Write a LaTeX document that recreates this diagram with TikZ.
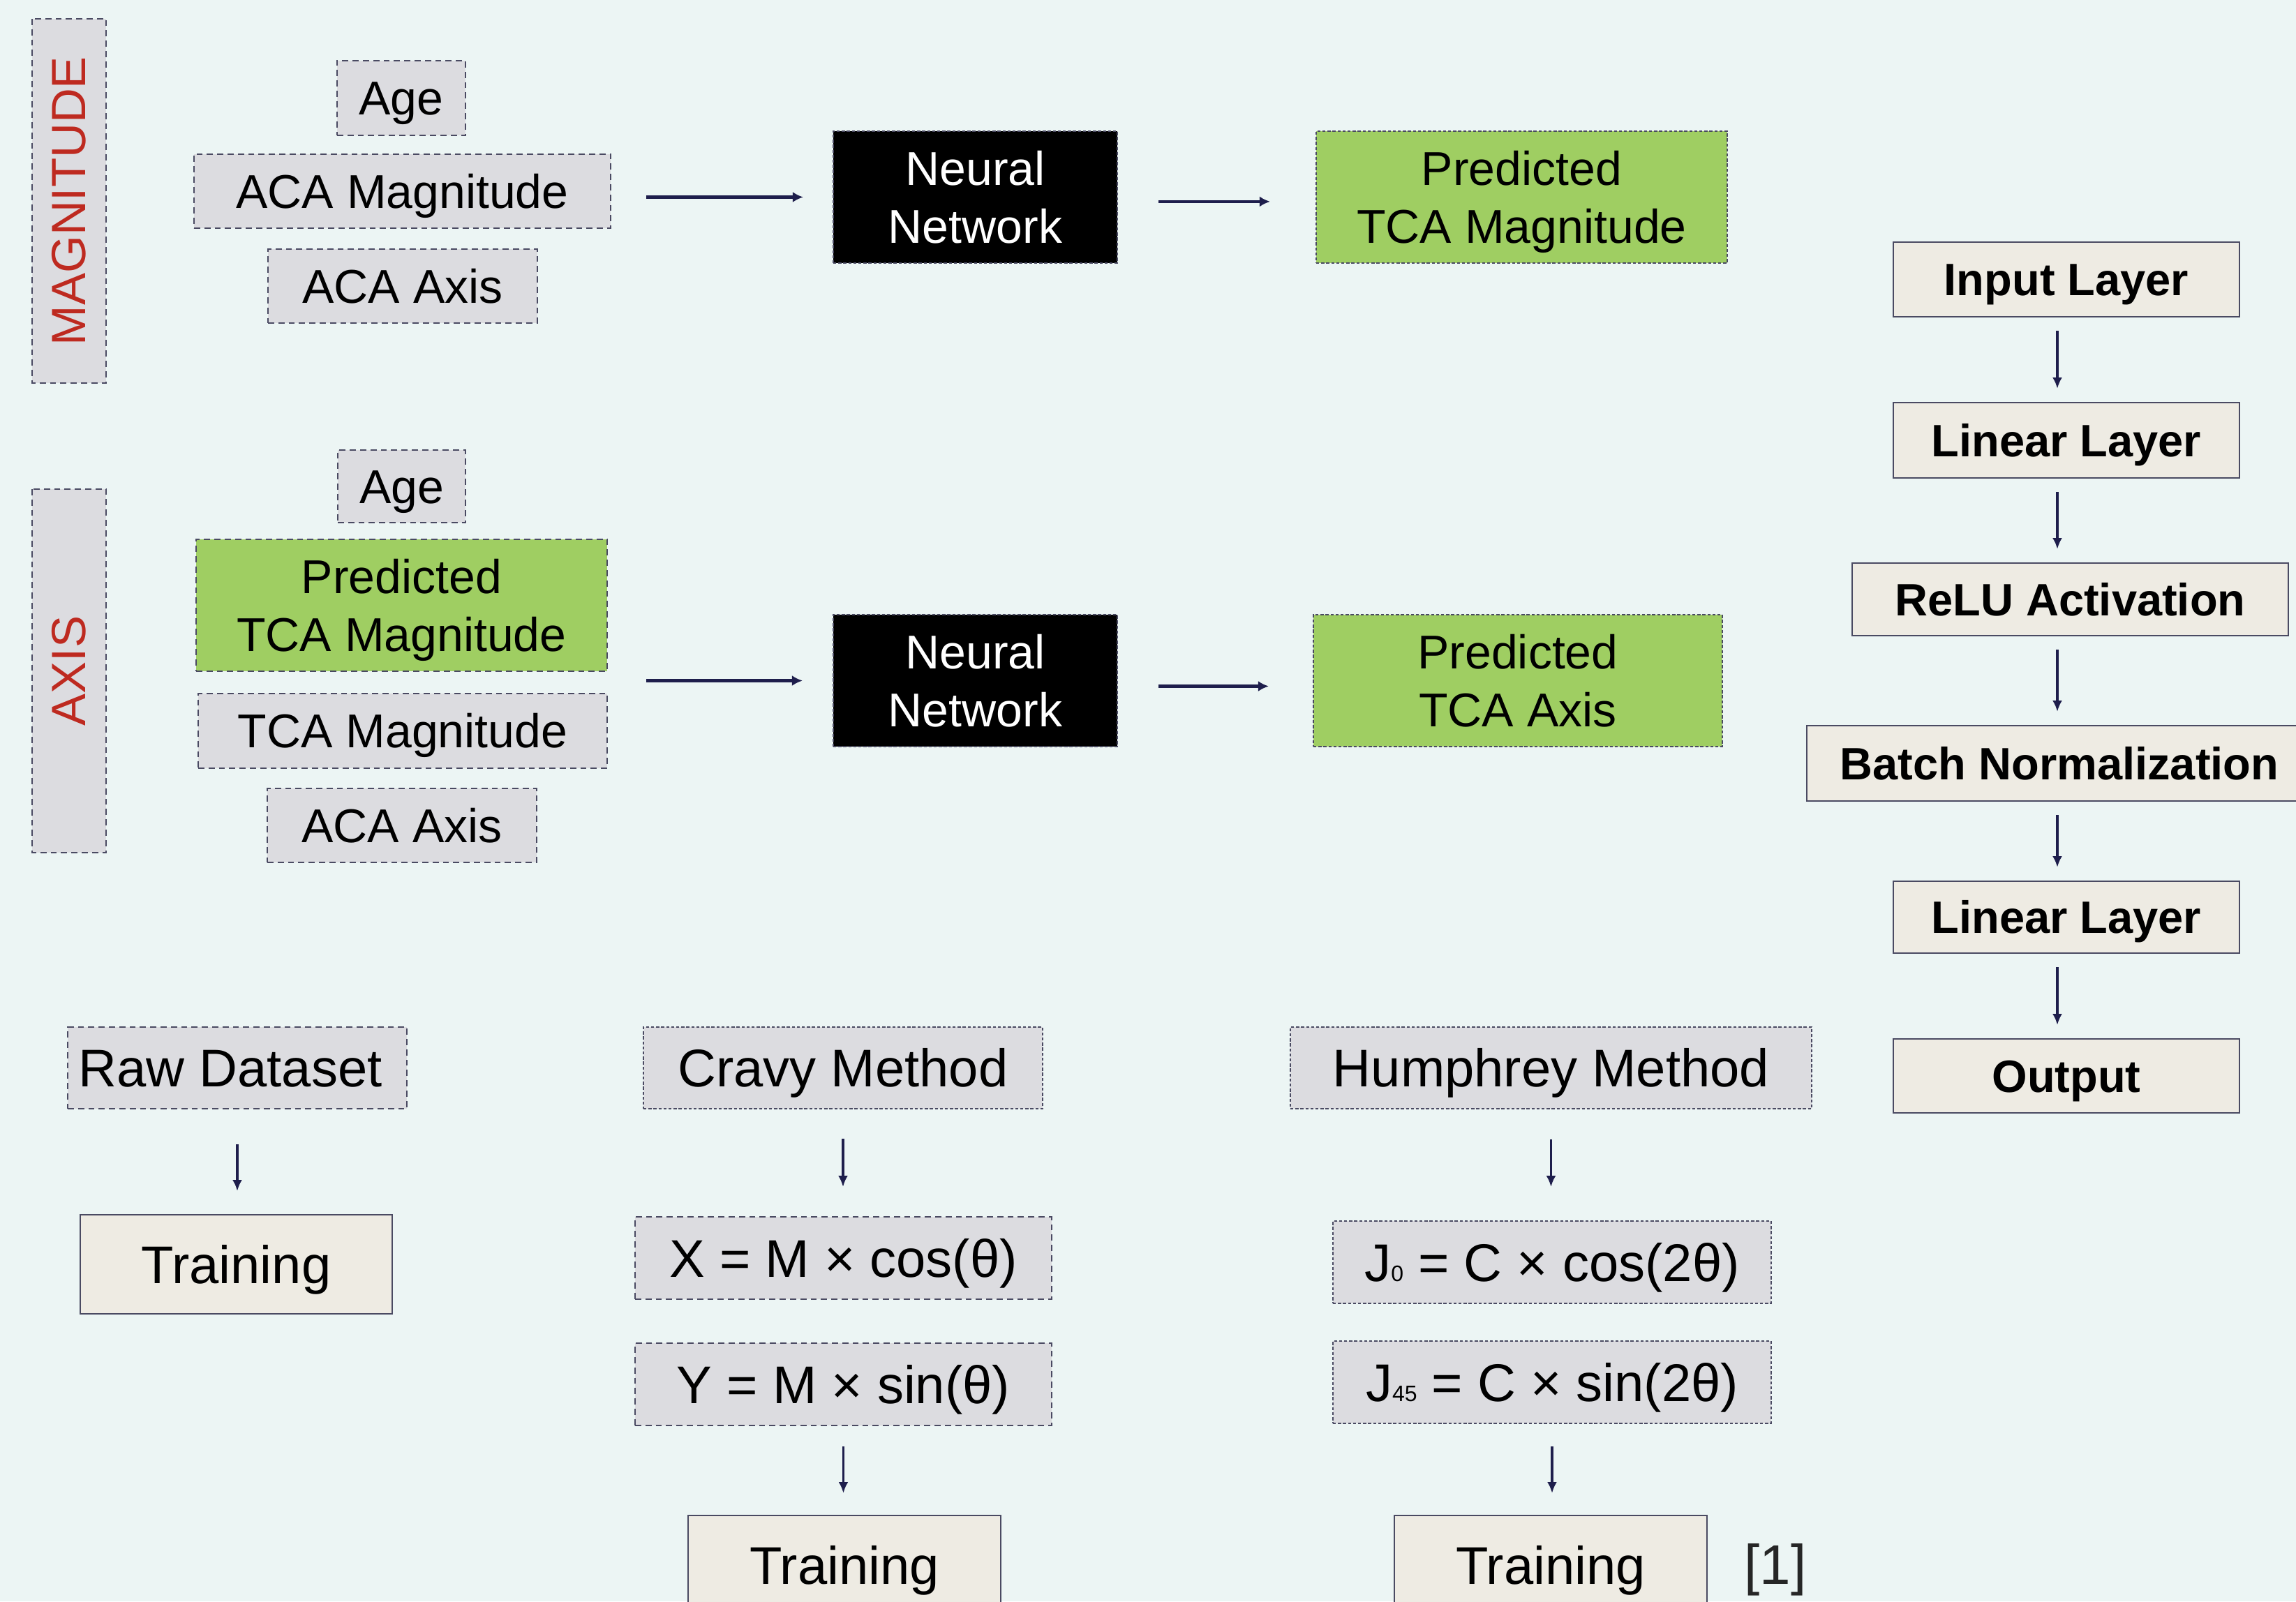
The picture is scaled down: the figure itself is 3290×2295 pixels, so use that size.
\documentclass[tikz,border=0pt]{standalone}
\usepackage{fontspec}
\setmainfont{Liberation Sans}
\usetikzlibrary{arrows.meta}
\definecolor{bg}{HTML}{ECF5F4}
\definecolor{grayfill}{HTML}{DCDCE0}
\definecolor{edge}{HTML}{4A4A62}
\definecolor{leaf}{HTML}{9FCE62}
\definecolor{beige}{HTML}{EEEBE3}
\definecolor{navy}{HTML}{1E1E4C}
\definecolor{labelred}{HTML}{BE2A20}
\begin{document}
\begin{tikzpicture}[x=0.25pt,y=-0.25pt,
  sz/.style 2 args={minimum width=#1*0.25pt, minimum height=#2*0.25pt},
  base/.style={inner sep=0pt, outer sep=0pt, align=center, text=black},
  coarse/.style={base, draw=edge, line width=0.6pt, dash pattern=on 2.2pt off 1.5pt, fill=grayfill},
  fine/.style={base, draw=edge, line width=0.6pt, dash pattern=on 1.1pt off 0.7pt, fill=grayfill},
  vlabel/.style={coarse, rotate=90, text=labelred, font=\fontsize{17.25}{20}\selectfont},
  midfont/.style={font=\fontsize{17}{20.75}\selectfont, text height=12.2pt, text depth=0pt},
  midtwo/.style={font=\fontsize{17}{20.75}\selectfont},
  bigfont/.style={font=\fontsize{19}{22}\selectfont, text height=13.6pt, text depth=0pt},
  layer/.style={base, draw=edge, line width=0.6pt, fill=beige, font=\fontsize{16.25}{19}\selectfont\bfseries, text height=11.6pt, text depth=0pt},
  trainbox/.style={base, draw=edge, line width=0.6pt, fill=beige, bigfont},
  hArrow/.style={draw=navy, line width=1.2pt, -{Latex[length=3.8pt,width=3.8pt]}},
  vArrow/.style={draw=navy, line width=0.8pt, -{Latex[length=4pt,width=3.5pt]}}
]
\useasboundingbox (0,0) rectangle (3290,2295);
\fill[bg] (0,0) rectangle (3290,2295);

% ---- MAGNITUDE row ----
\node[vlabel, sz={522}{106}] (maglab) at (99,288) {MAGNITUDE};
\node[coarse, sz={184}{107}, midfont] (age1) at (575,140.5) {Age};
\node[coarse, sz={597}{106}, midfont] (acamag) at (576.5,274) {ACA Magnitude};
\node[coarse, sz={386}{106}, midfont] (acaaxis1) at (577,410) {ACA Axis};
\node[fine, fill=black, text=white, sz={407}{189}, midtwo] (nn1) at (1397.5,282.5) {Neural\\Network};
\node[fine, fill=leaf, sz={589}{189}, midtwo] (predmag) at (2180.5,282.5) {\rule{0pt}{16pt}Predicted\\TCA Magnitude};
\draw[hArrow, shorten <=12.75pt, shorten >=10.75pt] (acamag.east |- nn1.west) -- (nn1.west);
\draw[hArrow, shorten <=14.75pt, shorten >=16.5pt] ([yshift=-1.6pt]nn1.east) -- ([yshift=-1.6pt]predmag.west);

% ---- AXIS row ----
\node[vlabel, sz={521}{106}] (axislab) at (99,961.5) {AXIS};
\node[coarse, sz={183}{104}, midfont] (age2) at (575.5,697) {Age};
\node[coarse, fill=leaf, sz={589}{189}, midtwo] (predmag2) at (575.5,867.5) {\rule{0pt}{16pt}Predicted\\TCA Magnitude};
\node[coarse, sz={586}{107}, midfont] (tcamag) at (577,1047.5) {TCA Magnitude};
\node[coarse, sz={386}{106}, midfont] (acaaxis2) at (576,1183) {ACA Axis};
\node[fine, fill=black, text=white, sz={407}{189}, midtwo] (nn2) at (1397.5,975.5) {Neural\\Network};
\node[fine, fill=leaf, sz={586}{189}, midtwo] (predaxis) at (2175,975.5) {Predicted\\TCA Axis};
\draw[hArrow, shorten <=14pt, shorten >=11pt] (tcamag.east |- nn2.west) -- (nn2.west);
\draw[hArrow, shorten <=14.75pt, shorten >=16pt] ([yshift=-2pt]nn2.east) -- ([yshift=-2pt]predaxis.west);

% ---- network layers ----
\coordinate (colx) at (2948,0);
\node[layer, sz={496}{107}] (input) at (2961,400.5) {Input Layer};
\node[layer, sz={496}{108}] (lin1) at (2961,631) {Linear Layer};
\node[layer, sz={625}{104}] (relu) at (2966.5,859) {ReLU Activation};
\node[layer, sz={724}{108}] (bn) at (2951,1094) {Batch Normalization};
\node[layer, sz={496}{103}] (lin2) at (2961,1314.5) {Linear Layer};
\node[layer, sz={496}{106}] (output) at (2961,1542) {Output};
\foreach \a/\b in {input/lin1, lin1/relu, relu/bn, bn/lin2, lin2/output}
  \draw[vArrow, shorten <=5pt, shorten >=5pt] (\a.south -| colx) -- (\b.north -| colx);

% ---- bottom: raw ----
\node[coarse, sz={486}{117}, bigfont] (raw) at (340,1530.5) {\hspace*{-5pt}Raw Dataset};
\node[trainbox, sz={447}{142}] (rawtrain) at (338.5,1812) {Training};
\draw[vArrow, shorten <=12.75pt, shorten >=8.5pt] (raw.south) -- (raw.south |- rawtrain.north);

% ---- bottom: Cravy ----
\node[fine, sz={572}{117}, bigfont] (cravy) at (1208,1530.5) {Cravy Method};
\node[coarse, sz={597}{118}, bigfont] (xbox) at (1208.5,1803) {X = M × cos(θ)};
\node[coarse, sz={597}{118}, bigfont] (ybox) at (1208.5,1984) {Y = M × sin(θ)};
\node[trainbox, sz={448}{142}] (cravytrain) at (1210,2243) {Training};
\draw[vArrow, shorten <=10.75pt, shorten >=10.75pt] (cravy.south) -- (cravy.south |- xbox.north);
\draw[vArrow, shorten <=7.5pt, shorten >=8pt] (ybox.south) -- (ybox.south |- cravytrain.north);

% ---- bottom: Humphrey ----
\node[fine, sz={747}{117}, bigfont] (humph) at (2222.5,1530.5) {Humphrey Method};
\node[fine, sz={628}{118}, bigfont] (j0) at (2224,1809) {J{\fontsize{8}{8}\selectfont 0} = C × cos(2θ)};
\node[fine, sz={628}{118}, bigfont] (j45) at (2224,1981) {J{\fontsize{8}{8}\selectfont 45} = C × sin(2θ)};
\node[trainbox, sz={448}{142}] (humtrain) at (2222,2243) {Training};
\draw[vArrow, shorten <=11pt, shorten >=12.25pt] (humph.south) -- (humph.south |- j0.north);
\draw[vArrow, shorten <=8.25pt, shorten >=8pt] (j45.south) -- (j45.south |- humtrain.north);
\node[base, text=black!85, font=\fontsize{20}{24}\selectfont] (ref) at (2544,2250) {[1]};
\end{tikzpicture}
\end{document}
